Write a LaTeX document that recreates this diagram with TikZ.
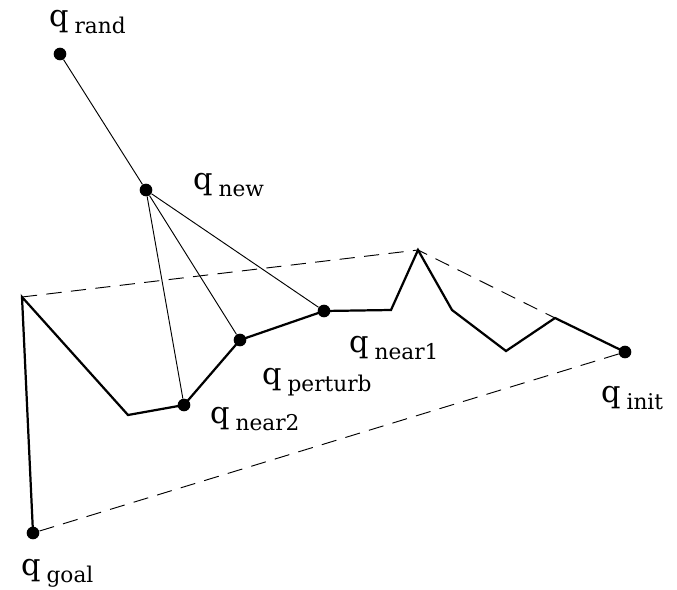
\documentclass[tikz,border=0pt]{standalone}
\usepackage{fontspec}
\setmainfont{DejaVu Serif}
\usepackage{tikz}
\newcommand{\qlab}[1]{{\fontsize{26}{26}\selectfont q}\hspace{5pt}\raisebox{-6pt}{\fontsize{18.5}{18.5}\selectfont #1}}

\begin{document}
\begin{tikzpicture}[x=0.03cm,y=-0.03cm,
pt/.style={circle,fill=black,inner sep=0pt,minimum size=0.38cm},
lab/.style={anchor=west,inner sep=0pt},
tree/.style={line width=1.9pt,line join=miter},
edge/.style={line width=0.8pt},
hull/.style={line width=0.8pt,dash pattern=on 13pt off 8pt}]
\useasboundingbox (0,0) rectangle (677,589);
% vertices of the tree
\node[pt] (rand) at (60,54) {};
\node[pt] (new) at (146,190) {};
\node[pt] (near2) at (184,405) {};
\node[pt] (perturb) at (240,340) {};
\node[pt] (near1) at (324,311) {};
\node[pt] (init) at (625,352) {};
\node[pt] (goal) at (33,533) {};
\coordinate (c1) at (22,297);
\coordinate (c2) at (128,415);
\coordinate (c3) at (391,310);
\coordinate (peak) at (418,250);
\coordinate (c4) at (452,310);
\coordinate (c5) at (506,351);
\coordinate (c6) at (555,318);
% labels
\node[lab] (lrand) at (49,22) {\qlab{rand}};
\node[lab] (lnew) at (193,185) {\qlab{new}};
\node[lab] (lnear1) at (349,348) {\qlab{near1}};
\node[lab] (lperturb) at (262,382) {\qlab{perturb}};
\node[lab] (lnear2) at (210,419) {\qlab{near2}};
\node[lab] (linit) at (601,398) {\qlab{init}};
\node[lab] (lgoal) at (21,573) {\qlab{goal}};
% hull
\draw[hull] (c1) -- (peak) -- (c6);
\draw[hull] (init) -- (goal);
% extension
\draw[edge] (rand) -- (new);
\draw[edge] (new) -- (near2);
\draw[edge] (new) -- (perturb);
\draw[edge] (new) -- (near1);
% path
\draw[tree] (goal.center) -- (c1) -- (c2) -- (near2.center) -- (perturb.center) -- (near1.center) -- (c3) -- (peak) -- (c4) -- (c5) -- (c6) -- (init.center);
\end{tikzpicture}
\end{document}
